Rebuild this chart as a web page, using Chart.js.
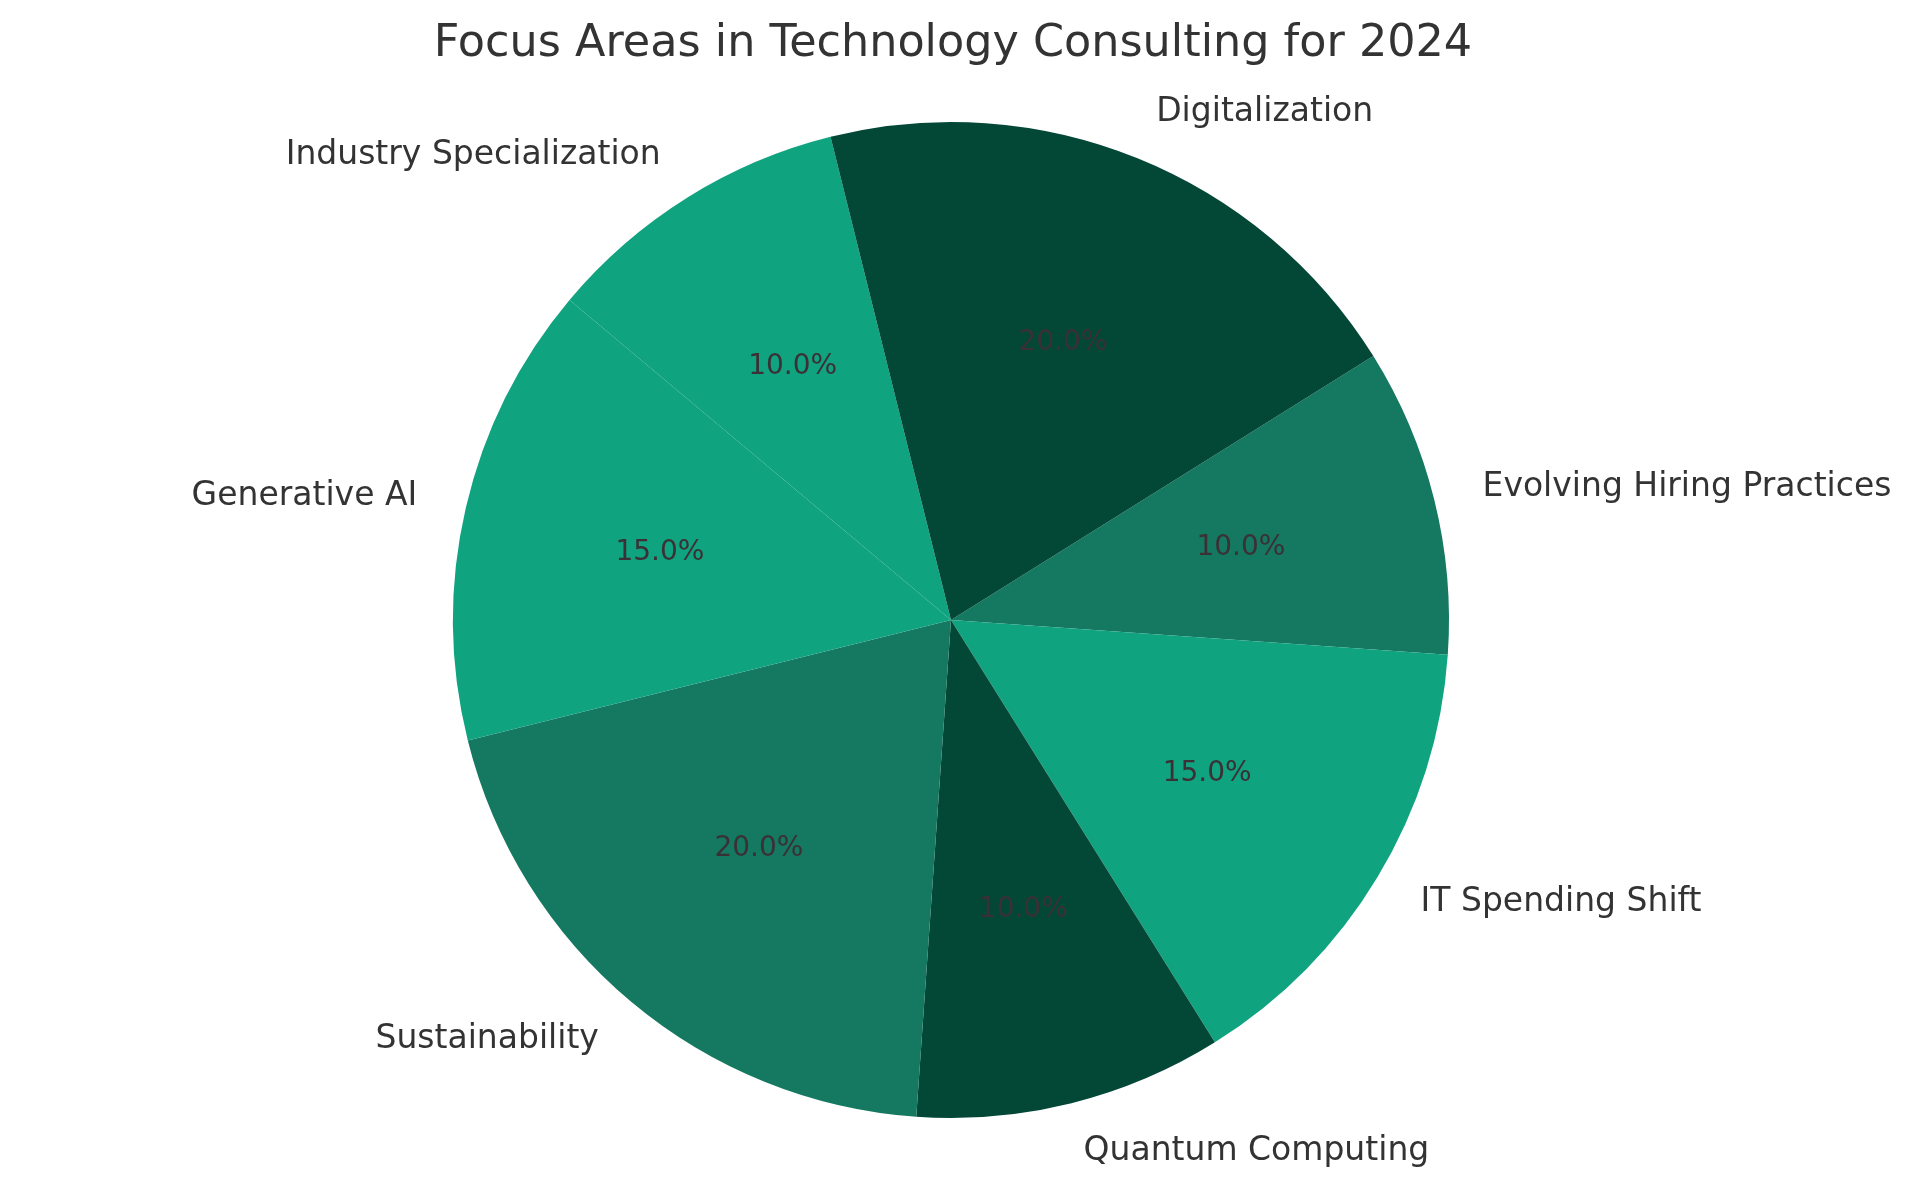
<!DOCTYPE html>
<html>
<head>
<meta charset="utf-8">
<title>Focus Areas in Technology Consulting for 2024</title>
<script src="https://cdn.jsdelivr.net/npm/chart.js@4/dist/chart.umd.min.js"></script>
<style>
  html, body { margin: 0; padding: 0; background: #ffffff; }
  #wrap { width: 1914px; height: 1186px; }
</style>
</head>
<body>
<div id="wrap"><canvas id="pieChart" width="1914" height="1186"></canvas></div>
<script>
// --- DATA (counter-clockwise order, as in the original) ---
const categories = ['Digitalization', 'Industry Specialization', 'Generative AI', 'Sustainability',
                    'Quantum Computing', 'IT Spending Shift', 'Evolving Hiring Practices'];
const shares = [20, 10, 15, 20, 10, 15, 10];
const sliceColors = ['#034737', '#10a37f', '#10a37f', '#147960', '#034737', '#10a37f', '#147960'];

const titleText = 'Focus Areas in Technology Consulting for 2024';

// Chart.js draws clockwise, so feed the slices reversed
const cwLabels = categories.slice().reverse();
const cwValues = shares.slice().reverse();
const cwColors = sliceColors.slice().reverse();
const total = shares.reduce((a, b) => a + b, 0);

const FONT = '"DejaVu Sans", "Liberation Sans", sans-serif';

// --- LABELS + TITLE ---
const pieText = {
    id: 'pieText',
    afterDraw(chart) {
        const ctx = chart.ctx;
        const arcs = chart.getDatasetMeta(0).data;
        ctx.save();
        arcs.forEach((arc, i) => {
            const mid = (arc.startAngle + arc.endAngle) / 2;
            const r = arc.outerRadius;
            // outside label
            const lx = arc.x + Math.cos(mid) * r * 1.1;
            const ly = arc.y + Math.sin(mid) * r * 1.1;
            ctx.font = '33px ' + FONT;
            ctx.fillStyle = '#333333';
            ctx.textBaseline = 'middle';
            ctx.textAlign = Math.cos(mid) >= 0 ? 'left' : 'right';
            ctx.fillText(cwLabels[i], lx, ly);
            // percent inside
            const px = arc.x + Math.cos(mid) * r * 0.6;
            const py = arc.y + Math.sin(mid) * r * 0.6;
            ctx.font = '28px ' + FONT;
            ctx.fillStyle = '#3b3036';
            ctx.textAlign = 'center';
            ctx.fillText((cwValues[i] / total * 100).toFixed(1) + '%', px, py);
        });
        ctx.font = '44.5px ' + FONT;
        ctx.fillStyle = '#333333';
        ctx.textAlign = 'center';
        ctx.textBaseline = 'middle';
        ctx.fillText(titleText, 953, 44);
        ctx.restore();
    }
};

new Chart(document.getElementById('pieChart').getContext('2d'), {
    type: 'pie',
    data: {
        labels: cwLabels,
        datasets: [{
            data: cwValues,
            backgroundColor: cwColors,
            borderWidth: 0
        }]
    },
    options: {
        responsive: false,
        animation: false,
        rotation: 58,
        layout: { padding: { left: 453, right: 465, top: 122, bottom: 68 } },
        plugins: {
            legend: { display: false },
            title: { display: false },
            tooltip: { enabled: false }
        }
    },
    plugins: [pieText]
});
</script>
</body>
</html>
